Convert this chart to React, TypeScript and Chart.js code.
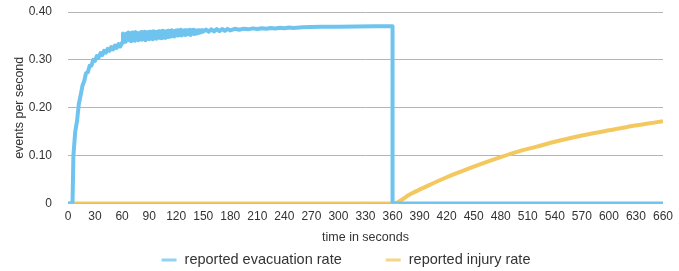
import React, { useEffect, useRef } from "react";
import { Chart, registerables } from "chart.js";

Chart.register(...registerables);

const evacTimes = [
  0, 5,
  6, 8, 10, 12, 14, 16, 18, 20, 22, 24, 26, 28, 30, 32, 34, 36, 38, 40, 42, 44, 46, 48, 50, 52, 54, 56, 58, 60,
  61, 62, 63, 64, 65, 66, 67, 68, 69, 70,
  71, 72, 73, 74, 75, 76, 77, 78, 79, 80,
  81, 82, 83, 84, 85, 86, 87, 88, 89, 90,
  91, 92, 93, 94, 95, 96, 97, 98, 99, 100,
  101, 102, 103, 104, 105, 106, 107, 108, 109, 110,
  111, 112, 113, 114, 115, 116, 117, 118, 119, 120,
  121, 122, 123, 124, 125, 126, 127, 128, 129, 130,
  131, 132, 133, 134, 135, 136, 137, 138, 139, 140,
  141, 142, 143, 144, 145, 146, 147, 148, 149, 150,
  153, 156, 159, 162, 165, 168, 171, 174, 177, 180,
  185, 190, 195, 200, 205, 210, 215, 220, 225, 230, 235, 240, 245, 250,
  260, 270, 280, 300, 320, 340, 360, 360, 660,
];
const evacRates = [
  0, 0,
  0.1, 0.15, 0.172, 0.208, 0.226, 0.246, 0.256, 0.272, 0.274, 0.288, 0.288, 0.3, 0.298, 0.308, 0.305, 0.314, 0.31,
  0.319, 0.315, 0.323, 0.319, 0.327, 0.322, 0.33, 0.325, 0.333, 0.328, 0.336,
  0.355, 0.34, 0.352, 0.338, 0.355, 0.343, 0.357, 0.341, 0.354, 0.339,
  0.357, 0.342, 0.354, 0.34, 0.358, 0.344, 0.356, 0.341, 0.355, 0.343,
  0.358, 0.342, 0.356, 0.344, 0.359, 0.341, 0.357, 0.345, 0.358, 0.343,
  0.359, 0.345, 0.357, 0.343, 0.36, 0.346, 0.358, 0.344, 0.359, 0.347,
  0.36, 0.346, 0.358, 0.345, 0.361, 0.347, 0.359, 0.346, 0.36, 0.348,
  0.361, 0.348, 0.36, 0.349, 0.362, 0.35, 0.36, 0.349, 0.361, 0.351,
  0.362, 0.351, 0.36, 0.352, 0.363, 0.351, 0.361, 0.353, 0.362, 0.352,
  0.362, 0.353, 0.361, 0.354, 0.363, 0.352, 0.362, 0.355, 0.363, 0.354,
  0.362, 0.355, 0.361, 0.356, 0.362, 0.357, 0.361, 0.358, 0.362, 0.359,
  0.3635, 0.359, 0.3638, 0.3595, 0.3642, 0.36, 0.3645, 0.3608, 0.3648, 0.3615,
  0.365, 0.363, 0.3652, 0.3638, 0.3658, 0.3645, 0.3662, 0.365, 0.3667, 0.3657, 0.3672, 0.3662, 0.3676, 0.3668,
  0.368, 0.3686, 0.369, 0.3693, 0.3697, 0.37, 0.37, 0, 0,
];

const injuryTimes = [0, 360, 380, 400, 420, 440, 460, 480, 500, 520, 540, 560, 580, 600, 620, 640, 660];
const injuryRates = [
  0, 0, 0.02, 0.038, 0.055, 0.07, 0.084, 0.097, 0.109, 0.119, 0.129, 0.138, 0.146, 0.153, 0.16, 0.166, 0.172,
];

const seriesNames = ["reported evacuation rate", "reported injury rate"];
const seriesColors = ["#6ec4ef", "#f3c85e"];
const xTitle = "time in seconds";
const yTitle = "events per second";

const FONT = "'Liberation Sans', Arial, Helvetica, sans-serif";
const TEXT = "#333";

const bottomLegend = {
  id: "bottomLegend",
  afterDraw(chart: any) {
    const ctx = chart.ctx;
    const ds = chart.data.datasets;
    ctx.save();
    ctx.font = `14.5px ${FONT}`;
    ctx.textBaseline = "middle";
    ctx.textAlign = "left";
    const markW = 15;
    const gap = 8;
    const spacing = 44;
    const widths = ds.map((d: any) => ctx.measureText(d.label).width);
    const total =
      widths.reduce((a: number, w: number) => a + w + markW + gap, 0) + spacing * (ds.length - 1);
    let x = 346 - total / 2;
    const y = 260;
    ds.forEach((d: any, i: number) => {
      ctx.fillStyle = d.borderColor;
      ctx.globalAlpha = 0.75;
      ctx.fillRect(x, y - 1.5, markW, 3);
      ctx.globalAlpha = 1;
      x += markW + gap;
      ctx.fillStyle = TEXT;
      ctx.fillText(d.label, x, y);
      x += widths[i] + spacing;
    });
    ctx.restore();
  },
};

export default function App() {
  const ref = useRef<HTMLCanvasElement | null>(null);
  useEffect(() => {
    if (!ref.current) return;
    const toPts = (xs: number[], ys: number[]) => xs.map((x, i) => ({ x, y: ys[i] }));
    const chart = new Chart(ref.current, {
      type: "line",
      data: {
        datasets: [
          {
            label: seriesNames[0],
            data: toPts(evacTimes, evacRates),
            borderColor: seriesColors[0],
            backgroundColor: seriesColors[0],
            borderWidth: 4,
            borderJoinStyle: "round",
            pointRadius: 0,
            tension: 0,
          },
          {
            label: seriesNames[1],
            data: toPts(injuryTimes, injuryRates),
            borderColor: seriesColors[1],
            backgroundColor: seriesColors[1],
            borderWidth: 4,
            borderJoinStyle: "round",
            pointRadius: 0,
            cubicInterpolationMode: "monotone",
          },
        ],
      },
      plugins: [bottomLegend],
      options: {
        animation: false,
        responsive: false,
        maintainAspectRatio: false,
        layout: { padding: { left: 0, right: 13, top: 12, bottom: 26 } },
        plugins: {
          tooltip: { enabled: false },
          legend: { display: false },
        },
        scales: {
          x: {
            type: "linear",
            min: 0,
            max: 660,
            ticks: {
              stepSize: 30,
              font: { family: FONT, size: 12 },
              color: TEXT,
              padding: 6,
              maxRotation: 0,
              autoSkip: false,
            },
            grid: { display: false, drawTicks: false },
            border: { display: false },
            title: {
              display: true,
              text: xTitle,
              font: { family: FONT, size: 12.5 },
              color: TEXT,
              padding: { top: 0, bottom: 0 },
            },
          },
          y: {
            min: 0,
            max: 0.4,
            ticks: {
              stepSize: 0.1,
              font: { family: FONT, size: 12 },
              color: TEXT,
              padding: 16,
              callback: (v: any) => (Number(v) === 0 ? "0" : Number(v).toFixed(2)),
            },
            grid: { color: "#b5b5b5", lineWidth: 1, drawTicks: false },
            border: { display: false },
            title: {
              display: true,
              text: yTitle,
              font: { family: FONT, size: 12.5 },
              color: TEXT,
              padding: { top: 12, bottom: 0 },
            },
            afterFit: (s: any) => {
              s.width = 68;
              s.paddingTop = 0;
              s.paddingBottom = 0;
            },
          },
        },
      },
    });
    return () => chart.destroy();
  }, []);
  return (
    <div style={{ position: "fixed", left: 0, top: 0, width: 679, height: 271, background: "#fff" }}>
      <canvas ref={ref} width={679} height={271} style={{ width: 679, height: 271 }} />
    </div>
  );
}
